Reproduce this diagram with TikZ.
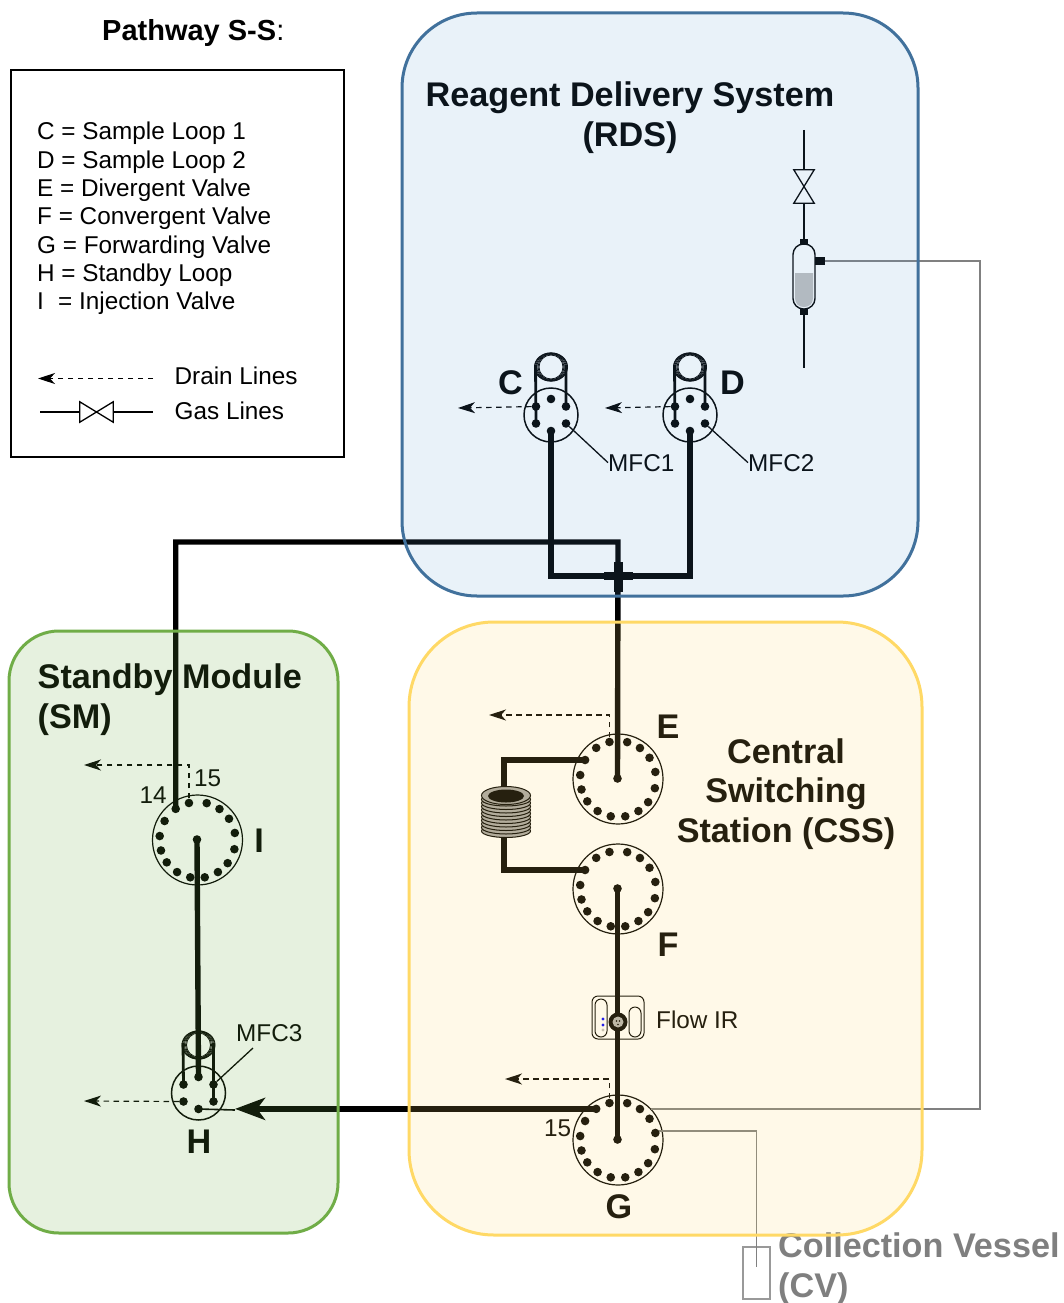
\documentclass[tikz,border=0pt]{standalone}
\usepackage{fontspec}
\setmainfont{Liberation Sans}
\usetikzlibrary{arrows.meta,calc}
\definecolor{rdsB}{HTML}{41719C}\definecolor{rdsF}{HTML}{5B9BD5}
\definecolor{cssB}{HTML}{FFD966}
\definecolor{smB}{HTML}{70AD47}
\definecolor{greyline}{HTML}{808080}
\definecolor{greytext}{HTML}{7F7F7F}
\tikzset{
 lab/.style={inner sep=0,anchor=base west,font=\fontsize{24.3}{28}\selectfont},
 big/.style={inner sep=0,anchor=base west,font=\bfseries\fontsize{34.2}{38}\selectfont},
 bigc/.style={inner sep=0,anchor=base,font=\bfseries\fontsize{34.2}{38}\selectfont},
 mainline/.style={line width=5.4pt,black},
 loopline/.style={line width=2.8pt,black},
 thinline/.style={line width=1.3pt,black},
 gasline/.style={line width=1.6pt,black},
 greyl/.style={line width=1.4pt,greyline},
 drain/.style={line width=1.2pt,black,dash pattern=on 5.5pt off 4.5pt,-{Stealth[length=17pt,width=11pt,inset=5pt,sep=0pt]}},
 dial/.style={circle,draw=black,line width=1.2pt,minimum size=90pt,inner sep=0},
 sdial/.style={circle,draw=black,line width=1.5pt,minimum size=54pt,inner sep=0},
 portdot/.style={circle,fill=black,inner sep=0,minimum size=8.6pt},
 capbox/.style={fill=black,inner sep=0},
 panel/.style={line width=3pt},
}
\newcommand{\rotvalve}[3]{%
 \node[dial] (#1) at (#2,#3) {};
 \node[portdot] (#1-c) at (#2-.5,#3-.5) {};
 \foreach \a [count=\k] in {10.7,34,54.7,76,103,125,150,174,196,216,237.5,259,281,302.5,322.5,346}
  \node[portdot] (#1-\k) at ({#2+38*cos(\a)},{#3-38*sin(\a)}) {};
}
\newcommand{\smallvalve}[3]{%
 \node[sdial] (#1) at (#2,#3) {};
 \node[portdot] (#1-t) at (#2,#3-16) {};
 \node[portdot] (#1-ur) at (#2+15,#3-8.5) {};
 \node[portdot] (#1-lr) at (#2+15,#3+8.5) {};
 \node[portdot] (#1-b) at (#2,#3+16) {};
 \node[portdot] (#1-ll) at (#2-15,#3+8.5) {};
 \node[portdot] (#1-ul) at (#2-15,#3-8.5) {};
 \coordinate (#1-cl) at (#2-15.5,#3-50);
 \coordinate (#1-cr) at (#2+15,#3-50);
 \foreach \rx/\ry in {12/12,13/12.8,14/13.2,15/13.6,16/14,16.6/14.2}
  \draw[line width=.8pt,black] (#2,#3-48) ellipse [x radius=\rx,y radius=\ry];
}
\begin{document}
\begin{tikzpicture}[x=1pt,y=-1pt]
\useasboundingbox (0,0) rectangle (1063,1303);
\fill[white] (0,0) rectangle (1063,1303);
% legend
\node[lab,font=\bfseries\fontsize{29}{32}\selectfont] (pathway) at (102,40.5) {Pathway S-S\textmd{:}};
\node[draw=black,line width=1.1pt,inner sep=0,minimum width=333pt,minimum height=387pt] (legendbox) at (177.5,263.5) {};
\node[lab] (legC) at (37,139.5) {C = Sample Loop 1};
\node[lab] (legD) at (37,168) {D = Sample Loop 2};
\node[lab] (legE) at (37,196) {E = Divergent Valve};
\node[lab] (legF) at (37,224.5) {F = Convergent Valve};
\node[lab] (legG) at (37,253) {G = Forwarding Valve};
\node[lab] (legH) at (37,281) {H = Standby Loop};
\node[lab] (legI) at (37,309.5) {I\hspace{7.5pt} = Injection Valve};
\coordinate (legdA) at (153,378.5);
\coordinate (legdB) at (38,378.5);
\draw[drain] (legdA) -- (legdB);
\node[lab] (legdrain) at (174.5,384.5) {Drain Lines};
\node[inner sep=0,minimum width=33pt,minimum height=20pt] (legv) at (96.5,412) {};
\coordinate (leggA) at (40,412);
\coordinate (leggB) at (153,412);
\draw[thinline] (leggA) -- (legv.west) (legv.east) -- (leggB);
\draw[thinline,line join=miter] (legv.north west) -- (legv.south west) -- (legv.north east) -- (legv.south east) -- cycle;
\node[lab] (leggas) at (174.5,419.5) {Gas Lines};
% valves
\rotvalve{E}{618}{779}
\rotvalve{F}{618}{889}
\rotvalve{G}{618}{1140}
\rotvalve{I}{197.5}{840}
\smallvalve{C}{551}{415}
\smallvalve{D}{690}{415}
\smallvalve{H}{198.5}{1093}
% labels
\node[big] (lC) at (498,394) {C};
\node[big] (lD) at (720,394) {D};
\node[big] (lE) at (656.5,738) {E};
\node[big] (lF) at (657.5,956) {F};
\node[bigc] (lG) at (619,1218.5) {G};
\node[bigc] (lH) at (199,1153) {H};
\node[bigc] (lI) at (259,852) {I};
\node[lab] (m1) at (608,471) {MFC1};
\node[lab] (m2) at (748,471) {MFC2};
\node[lab] (m3) at (236,1041) {MFC3};
\node[lab] (p15g) at (544,1136) {15};
\node[lab] (p15i) at (194,786) {15};
\node[lab] (p14i) at (139.5,803) {14};
\node[lab] (fir) at (656,1028) {Flow IR};
% titles
\node[bigc] (t1) at (630,107) {Reagent Delivery System};
\node[bigc] (t2) at (630,146.5) {(RDS)};
\node[bigc] (t3) at (786,763) {Central};
\node[bigc] (t4) at (786,802.5) {Switching};
\node[bigc] (t5) at (786,842) {Station (CSS)};
\node[big] (t6) at (37.5,688.5) {Standby Module};
\node[big] (t7) at (37.5,728) {(SM)};
\node[big,text=greytext] (t8) at (778,1257) {Collection Vessel};
\node[big,text=greytext] (t9) at (778,1297) {(CV)};
% grey lines
\node[capbox,minimum width=10pt,minimum height=8pt] (vport) at (820,261) {};
\coordinate (gasright) at (980,700);
\draw[greyl] (vport.east) -| (gasright) |- (G.43);
\node[draw=greyline!80,line width=1.4pt,inner sep=0,minimum width=27pt,minimum height=52pt] (cvbox) at (756.5,1273) {};
\coordinate (cvstart) at (659,1131);
\coordinate (cvend) at (756.5,1267);
\draw[greyl] (cvstart) -| (cvend);
% drains
\coordinate (dC) at (458,408);
\coordinate (dD) at (605,408);
\coordinate (dE) at (489,715);
\coordinate (dG) at (505,1079);
\coordinate (dI) at (84,765);
\coordinate (dH) at (84,1101);
\draw[drain] (C-ul) -- (dC);
\draw[drain] (D-ul) -- (dD);
\draw[drain] (E-5) |- (dE);
\draw[drain] (G-5) |- (dG);
\draw[drain] (I-5) |- (dI);
\draw[drain] (H-ll) -- (dH);
% sample loops
\draw[loopline] (C-cl) -- (C-ll.center) (C-cr) -- (C-ur.center);
\draw[loopline] (D-cl) -- (D-ll.center) (D-cr) -- (D-ur.center);
\draw[loopline] (H-cl) -- (H-ul.center) (H-cr) -- (H-lr.center);
\draw[thinline] (C-lr) -- (m1.west);
\draw[thinline] (D-lr) -- (m2.west);
\coordinate (m3end) at (253,1048);
\draw[thinline] (H-ur) -- (m3end);
% main lines
\node[capbox,minimum width=29pt,minimum height=8pt] (crossh) at (618,576) {};
\node[capbox,minimum width=9pt,minimum height=30pt] (crossv) at (618,577) {};
\coordinate (toptee) at (618,542);
\draw[mainline,line join=miter] (C-b.center) |- (crossh.center) -| (D-b.center);
\draw[mainline,line join=miter] (I-6.center) |- (toptee) -- (E-c.center);
\draw[mainline] (I-c.center) -- (H-t.center);
\draw[mainline] (F-c.center) -- (G-c.center);
% big coil
\coordinate (coilA) at (504,800);
\coordinate (coilB) at (504,830);
\draw[mainline,line join=miter] (E-7.center) -| (coilA);
\draw[mainline,line join=miter] (F-7.center) -| (coilB);
\foreach \yy in {831,827.5,824,820.5,817,813.5,810,806.5,803,799.5}
 \draw[line width=1pt,black,fill=black!35] (506,\yy) ellipse [x radius=24.5,y radius=6.5];
\draw[line width=1pt,black,fill=black!35] (506,795.5) ellipse [x radius=24.5,y radius=9];
\fill[black] (506,796) ellipse [x radius=18,y radius=6.5];
% flow IR
\node[draw=black,line width=1pt,rounded corners=6pt,inner sep=0,minimum width=52pt,minimum height=43pt] (flowbox) at (618,1017.5) {};
\draw[line width=1pt,black,rounded corners=6pt] (595,999) rectangle (607,1037);
\draw[line width=1pt,black,rounded corners=6pt] (629,1007) rectangle (641,1037);
\fill[blue] (603,1019) circle (1.6) (603,1025) circle (1.6);
\fill[black!25] (603,1030) circle (1.6);
\fill[black] (618,1022) circle (9.5);
\fill[black!30] (618,1022) circle (5.5);
\fill[black] (616.5,1021) circle (.8) (619.5,1021) circle (.8) (618,1024.5) circle (.8);
% link G to H
\coordinate (htip) at (235,1110);
\draw[line width=1.6pt,black] (H-b.center) -- (htip);
\draw[line width=6pt,black,-{Stealth[length=30pt,width=22pt,inset=8pt]}] (G-6.center) -- (G-6 -| htip);
% gas vessel
\coordinate (gastop) at (804,130);
\coordinate (gasbot) at (804,368);
\node[inner sep=0,minimum width=20pt,minimum height=33pt] (gv) at (804,186.5) {};
\node[capbox,minimum width=8pt,minimum height=6pt] (vtop) at (804,242) {};
\node[capbox,minimum width=8pt,minimum height=6pt] (vbot) at (804,312) {};
\draw[gasline] (gastop) -- (gv.north) (gv.south) -- (vtop.north);
\draw[gasline] (vbot.south) -- (gasbot);
\draw[thinline,line join=miter] (gv.north west) -- (gv.north east) -- (gv.south west) -- (gv.south east) -- cycle;
\fill[black!25] (795,273) -- (813,273) -- (813,298) .. controls (813,304) and (809,307) .. (804,307) .. controls (799,307) and (795,304) .. (795,298) -- cycle;
\node[draw=black,line width=1.4pt,rounded corners=10.5pt,inner sep=0,minimum width=22pt,minimum height=65pt] (vessel) at (804,276.5) {};
% translucent panels
\draw[panel,draw=rdsB,fill=rdsF,fill opacity=.13,rounded corners=75pt] (402,13) rectangle (918,596);
\draw[panel,draw=cssB,fill=cssB,fill opacity=.15,rounded corners=85pt] (409,622) rectangle (922,1235);
\draw[panel,draw=smB,fill=smB,fill opacity=.17,rounded corners=50pt] (9,631) rectangle (338,1233);
\end{tikzpicture}
\end{document}
